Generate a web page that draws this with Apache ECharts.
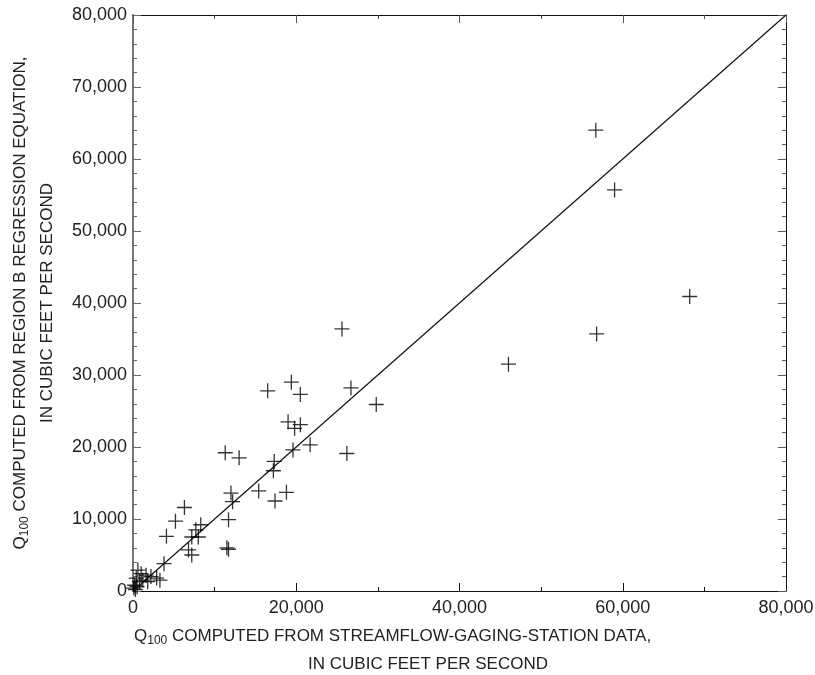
<!DOCTYPE html>
<html>
<head>
<meta charset="utf-8">
<script src="https://cdn.jsdelivr.net/npm/echarts@6/dist/echarts.min.js"></script>
<style>
html,body{margin:0;padding:0;background:#fff;}
#chart{width:815px;height:675px;}
</style>
</head>
<body>
<div id="chart"></div>
<script>
// Q100 from streamflow-gaging-station data (x) vs region B regression equation (y)
var stationQ = [56700, 59000, 68200, 56800, 25600, 26700, 29800, 46000, 19400, 16500,
                20500, 19000, 20500, 19800, 21700, 19600, 26200, 11300, 13000, 17300,
                17200, 15400, 18800, 17400, 12000, 12200, 6300, 11700, 5200, 4100,
                8300, 7700, 8000, 7200, 11500, 11700, 6800, 7200, 3800,
                600, 1000, 1600, 2200, 2900, 3300, 400, 800, 1200, 200, 100, 1800, 500, 300];
var regressionQ = [64000, 55700, 40900, 35700, 36400, 28200, 25900, 31500, 29000, 27800,
                   27300, 23500, 23100, 22600, 20300, 19600, 19100, 19200, 18500, 18000,
                   16700, 13900, 13700, 12500, 13600, 12400, 11600, 9900, 9700, 7600,
                   9200, 8500, 7500, 7500, 6000, 5800, 5700, 5000, 3800,
                   2900, 2400, 2200, 2000, 1800, 1500, 1800, 1300, 1500, 800, 400, 1300, 600, 200];
var lineOfEquality = [[0, 0], [80000, 80000]];

var FONT = '"Liberation Sans", Arial, Helvetica, sans-serif';

var points = [];
for (var i = 0; i < stationQ.length; i++) {
    points.push([stationQ[i], regressionQ[i]]);
}

var myChart = echarts.init(document.getElementById('chart'));

function fmt(v) {
    return echarts.format.addCommas(v);
}

var subRich = {
    sub: {fontSize: 12, fontFamily: FONT, color: '#222', padding: [9, 0, 0, 0]}
};

var option = {
    animation: false,
    grid: {left: 133, right: 29, top: 15, bottom: 84, containLabel: false, outerBoundsMode: 'none'},
    xAxis: [
        {
            type: 'value', position: 'bottom',
            min: 0, max: 80000, interval: 20000,
            name: 'Q{sub|100} COMPUTED FROM STREAMFLOW-GAGING-STATION DATA,               \nIN CUBIC FEET PER SECOND',
            nameLocation: 'middle', nameGap: 31,
            nameTextStyle: {fontFamily: FONT, fontSize: 17, color: '#222', lineHeight: 28,
                            padding: [0, 63, 0, 0], rich: subRich},
            axisLine: {show: true, onZero: false, lineStyle: {color: '#111', width: 1}},
            axisTick: {show: true, inside: true, length: 8, lineStyle: {color: '#111'}},
            minorTick: {show: true, splitNumber: 2, length: 4, lineStyle: {color: '#111'}},
            axisLabel: {fontFamily: FONT, fontSize: 18, color: '#222', margin: 8, formatter: fmt},
            splitLine: {show: false}
        },
        {
            type: 'value', position: 'top',
            min: 0, max: 80000, interval: 20000,
            axisLine: {show: true, onZero: false, lineStyle: {color: '#111', width: 1}},
            axisTick: {show: true, inside: true, length: 8, lineStyle: {color: '#555'}},
            minorTick: {show: true, splitNumber: 2, length: 4, lineStyle: {color: '#555'}},
            axisLabel: {show: false},
            splitLine: {show: false}
        }
    ],
    yAxis: [
        {
            type: 'value', position: 'left',
            min: 0, max: 80000, interval: 10000,
            name: 'Q{sub|100} COMPUTED FROM REGION B REGRESSION EQUATION,\nIN CUBIC FEET PER SECOND',
            nameLocation: 'middle', nameGap: 72, nameRotate: 90,
            nameTextStyle: {fontFamily: FONT, fontSize: 17, color: '#222', lineHeight: 27, rich: subRich},
            axisLine: {show: true, onZero: false, lineStyle: {color: '#777', width: 2}},
            axisTick: {show: true, inside: true, length: 8, lineStyle: {color: '#666'}},
            minorTick: {show: true, splitNumber: 5, length: 4, lineStyle: {color: '#666'}},
            axisLabel: {fontFamily: FONT, fontSize: 18, color: '#222', margin: 6, formatter: fmt},
            splitLine: {show: false}
        },
        {
            type: 'value', position: 'right',
            min: 0, max: 80000, interval: 10000,
            axisLine: {show: true, onZero: false, lineStyle: {color: '#111', width: 1}},
            axisTick: {show: true, inside: true, length: 8, lineStyle: {color: '#555'}},
            minorTick: {show: true, splitNumber: 5, length: 4, lineStyle: {color: '#555'}},
            axisLabel: {show: false},
            splitLine: {show: false}
        }
    ],
    series: [
        {
            name: 'equality',
            type: 'line',
            xAxisIndex: 1, yAxisIndex: 1,
            data: lineOfEquality,
            showSymbol: false,
            lineStyle: {color: '#111', width: 1.2},
            z: 2
        },
        {
            name: 'stations',
            type: 'scatter',
            xAxisIndex: 0, yAxisIndex: 0,
            data: points,
            symbol: 'path://M50,0 L50,100 M0,50 L100,50',
            symbolSize: 15,
            itemStyle: {color: 'none', borderColor: '#000', borderWidth: 1.3},
            z: 3
        }
    ]
};
myChart.setOption(option);
</script>
</body>
</html>
